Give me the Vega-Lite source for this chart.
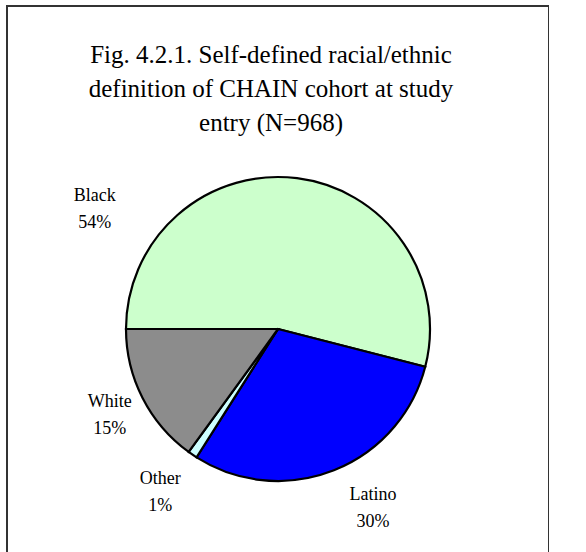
{
  "$schema": "https://vega.github.io/schema/vega-lite/v6.json",
  "autosize": "none",
  "width": 542,
  "height": 646,
  "padding": {"left": 7, "top": 6, "right": 0, "bottom": 0},
  "background": "white",
  "view": {"stroke": "#333333", "strokeWidth": 2, "fill": null},
  "config": {
    "font": "Liberation Serif"
  },
  "title": {
    "text": ["Fig. 4.2.1. Self-defined racial/ethnic", "definition of CHAIN cohort at study", "entry (N=968)"],
    "font": "Liberation Serif",
    "fontSize": 25,
    "fontWeight": "normal",
    "color": "#000000",
    "lineHeight": 34,
    "anchor": "middle",
    "baseline": "top",
    "offset": 0,
    "dx": -7,
    "dy": 130
  },
  "data": {
    "values": [
      {"group": "Black", "pct": 54, "rank": 1},
      {"group": "Latino", "pct": 30, "rank": 2},
      {"group": "Other", "pct": 1, "rank": 3},
      {"group": "White", "pct": 15, "rank": 4}
    ]
  },
  "transform": [
    {"stack": "pct", "groupby": [], "sort": [{"field": "rank", "order": "ascending"}], "as": ["t0", "t1"]},
    {"calculate": "(datum.t0 + datum.t1) / 2", "as": "tmid"},
    {"calculate": "datum.group + '\\n' + datum.pct + '%'", "as": "label"}
  ],
  "layer": [
    {
      "mark": {"type": "arc", "outerRadius": 152, "stroke": "#000000", "strokeWidth": 2.2},
      "encoding": {
        "theta": {"field": "t0", "type": "quantitative", "scale": {"domain": [0, 100], "range": [4.71238898, 10.99557429]}},
        "theta2": {"field": "t1"},
        "color": {
          "field": "group",
          "type": "nominal",
          "scale": {"domain": ["Black", "Latino", "Other", "White"], "range": ["#CCFFCC", "#0000FF", "#CCFFFF", "#8c8c8c"]},
          "legend": null
        }
      }
    },
    {
      "transform": [{"filter": "datum.group === 'Black'"}],
      "mark": {"type": "text", "radius": 190, "dx": -207, "dy": 56, "fontSize": 18, "lineHeight": 27, "lineBreak": "\n", "align": "center", "baseline": "middle", "color": "#000000"},
      "encoding": {
        "theta": {"field": "tmid", "type": "quantitative"},
        "text": {"field": "label"}
      }
    },
    {
      "transform": [{"filter": "datum.group === 'Latino'"}],
      "mark": {"type": "text", "radius": 190, "dx": 25, "dy": -11, "fontSize": 18, "lineHeight": 27, "lineBreak": "\n", "align": "center", "baseline": "middle", "color": "#000000"},
      "encoding": {
        "theta": {"field": "tmid", "type": "quantitative"},
        "text": {"field": "label"}
      }
    },
    {
      "transform": [{"filter": "datum.group === 'Other'"}],
      "mark": {"type": "text", "radius": 190, "dx": -11, "dy": -7, "fontSize": 18, "lineHeight": 27, "lineBreak": "\n", "align": "center", "baseline": "middle", "color": "#000000"},
      "encoding": {
        "theta": {"field": "tmid", "type": "quantitative"},
        "text": {"field": "label"}
      }
    },
    {
      "transform": [{"filter": "datum.group === 'White'"}],
      "mark": {"type": "text", "radius": 190, "dx": 1, "dy": -13, "fontSize": 18, "lineHeight": 27, "lineBreak": "\n", "align": "center", "baseline": "middle", "color": "#000000"},
      "encoding": {
        "theta": {"field": "tmid", "type": "quantitative"},
        "text": {"field": "label"}
      }
    }
  ]
}
